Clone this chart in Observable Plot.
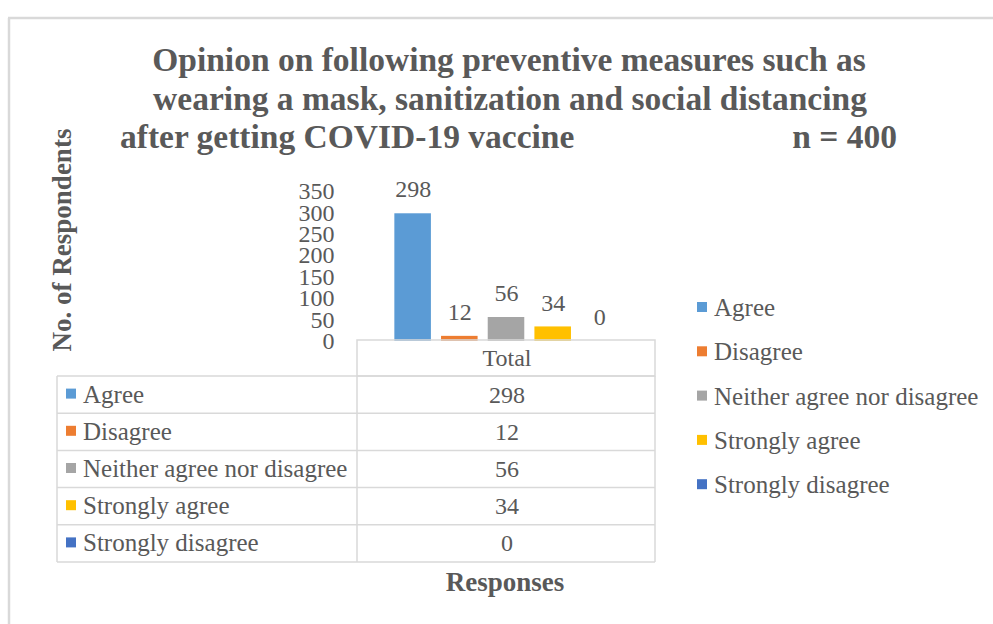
<!DOCTYPE html>
<html><head><meta charset="utf-8">
<script src="https://cdn.jsdelivr.net/npm/d3@7"></script>
<script src="https://cdn.jsdelivr.net/npm/@observablehq/plot@0.6"></script>
<style>
html,body{margin:0;padding:0;background:#fff;}
#chart{position:relative;width:993px;height:624px;overflow:hidden;}
</style></head><body><div id="chart"></div>
<script>
const responses = ["Agree","Disagree","Neither agree nor disagree","Strongly agree","Strongly disagree"];
const counts = [298,12,56,34,0];
const colors = ["#5B9BD5","#ED7D31","#A5A5A5","#FFC000","#4472C4"];
const category = "Total";
const yTicks = [0,50,100,150,200,250,300,350];
const titleLines = ["Opinion on following preventive measures such as","wearing a mask, sanitization and social distancing","after getting COVID-19 vaccine"];
const sampleLabel = "n = 400";
const yLabel = "No. of Respondents";
const xLabel = "Responses";

const data = responses.map((r,i)=>({response:r, count:counts[i]}));
const serif = "'Liberation Serif','Times New Roman',serif";
const txt = "#595959";
const grid = "#d9d9d9";

const W = 993, H = 624;
const tableL = 57, tableM = 357, tableR = 655, tableTop = 340, headerB = 376, rowH = 37.2;

const chart = Plot.plot({
  width: W, height: H,
  marginLeft: tableM, marginRight: W - tableR, marginTop: 191, marginBottom: H - 341,
  style: {fontFamily: serif, background: "transparent", overflow: "visible", color: txt},
  x: {domain: responses, paddingInner: 0.217, paddingOuter: 0.8, round: false, axis: null},
  y: {domain: [0, 350]},
  color: {domain: responses, range: colors},
  marks: [
    Plot.barY(data, {x: "response", y: "count", fill: "response"}),
    Plot.text(data, {x: "response", y: "count", text: d => String(d.count), dy: -24, fontSize: 24, fill: txt}),
    Plot.axisY({ticks: yTicks, tickSize: 0, tickPadding: 23, fontSize: 24, label: null, tickFormat: d => String(d)})
  ]
});
document.getElementById("chart").appendChild(chart);

const svg = d3.select(chart);
const g = svg.append("g").attr("font-family", serif).attr("fill", txt).attr("text-anchor", "start");

// outer frame (partial, as cropped)
g.append("line").attr("x1", 8).attr("x2", W).attr("y1", 18).attr("y2", 18).attr("stroke", grid).attr("stroke-width", 2.5);
g.append("line").attr("x1", 9).attr("x2", 9).attr("y1", 18).attr("y2", H).attr("stroke", grid).attr("stroke-width", 2.5);

// title
const tg = g.append("g").attr("font-weight", "bold").attr("font-size", 33.5);
tg.append("text").attr("x", 509).attr("y", 71).attr("text-anchor", "middle").text(titleLines[0]);
tg.append("text").attr("x", 510).attr("y", 110).attr("text-anchor", "middle").text(titleLines[1]);
tg.append("text").attr("x", 120).attr("y", 148).attr("text-anchor", "start").text(titleLines[2]);
tg.append("text").attr("x", 897).attr("y", 148).attr("text-anchor", "end").text(sampleLabel);

// axis titles
g.append("text").attr("transform", `translate(71,240) rotate(-90)`).attr("text-anchor", "middle")
  .attr("font-weight", "bold").attr("font-size", 27).text(yLabel);
g.append("text").attr("x", 505).attr("y", 591).attr("text-anchor", "middle")
  .attr("font-weight", "bold").attr("font-size", 27).text(xLabel);

// data table
const lines = g.append("g").attr("stroke", grid).attr("stroke-width", 1.5).attr("fill", "none");
const rowsB = d3.range(responses.length + 1).map(i => headerB + i * rowH);
lines.append("rect").attr("x", tableM).attr("y", tableTop).attr("width", tableR - tableM).attr("height", headerB - tableTop);
rowsB.forEach(y => lines.append("line").attr("x1", tableL).attr("x2", tableR).attr("y1", y).attr("y2", y));
lines.append("line").attr("x1", tableL).attr("x2", tableL).attr("y1", headerB).attr("y2", rowsB[rowsB.length - 1]);
lines.append("line").attr("x1", tableM).attr("x2", tableM).attr("y1", headerB).attr("y2", rowsB[rowsB.length - 1]);
lines.append("line").attr("x1", tableR).attr("x2", tableR).attr("y1", headerB).attr("y2", rowsB[rowsB.length - 1]);
g.append("text").attr("x", (tableM + tableR) / 2 + 1).attr("y", (tableTop + headerB) / 2 + 8).attr("text-anchor", "middle").attr("font-size", 24).text(category);
responses.forEach((r, i) => {
  const cy = headerB + i * rowH + rowH / 2;
  g.append("rect").attr("x", 66).attr("y", cy - 6).attr("width", 10).attr("height", 10).attr("fill", colors[i]);
  g.append("text").attr("x", 83).attr("y", cy + 8).attr("text-anchor", "start").attr("font-size", 25).text(r);
  g.append("text").attr("x", (tableM + tableR) / 2 + 1).attr("y", cy + 8).attr("text-anchor", "middle").attr("font-size", 24).text(String(counts[i]));
});

// legend
responses.forEach((r, i) => {
  const cy = 308 + i * 44.3;
  g.append("rect").attr("x", 697).attr("y", cy - 6).attr("width", 10).attr("height", 10).attr("fill", colors[i]);
  g.append("text").attr("x", 714).attr("y", cy + 8).attr("text-anchor", "start").attr("font-size", 25).text(r);
});
</script></body></html>
